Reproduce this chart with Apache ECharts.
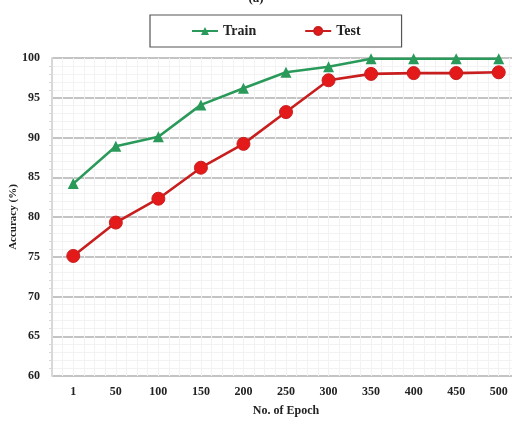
<!DOCTYPE html>
<html><head><meta charset="utf-8">
<script src="https://cdn.jsdelivr.net/npm/echarts@6/dist/echarts.min.js"></script>
<style>html,body{margin:0;padding:0;background:#fff}#c{width:512px;height:425px}</style>
</head><body><div id="c"></div>
<script>
var epochs = ['1','50','100','150','200','250','300','350','400','450','500'];
var trainAcc = [84.2, 88.9, 90.1, 94.1, 96.2, 98.2, 98.9, 99.9, 99.9, 99.9, 99.9];
var testAcc = [75.1, 79.3, 82.3, 86.2, 89.2, 93.2, 97.2, 98.0, 98.1, 98.1, 98.2];
var FONT = 'Liberation Serif';
var chart = echarts.init(document.getElementById('c'));
chart.setOption({
  animation: false,
  title: {text: '(a)', left: 'center', top: -13, textStyle: {fontFamily: FONT, fontWeight: 'bold', fontSize: 13, color: '#222'}},
  legend: {
    top: 15, left: 150,
    padding: [9, 41, 9, 41], itemGap: 48,
    borderColor: '#555', borderWidth: 1.2,
    itemWidth: 26, itemHeight: 10,
    textStyle: {fontFamily: FONT, fontWeight: 'bold', fontSize: 14, color: '#222'},
    data: ['Train', 'Test']
  },
  grid: [{left: 52, top: 58, width: 468, height: 318, outerBoundsMode: 'none', containLabel: false}],
  xAxis: [{
    type: 'category', data: epochs, boundaryGap: true,
    axisLine: {show: false}, axisTick: {show: false},
    axisLabel: {fontFamily: FONT, fontWeight: 'bold', fontSize: 12, color: '#222', margin: 10},
    splitLine: {show: false},
    name: 'No. of Epoch', nameLocation: 'middle', nameGap: 29, nameMoveOverlap: false,
    nameTextStyle: {fontFamily: FONT, fontWeight: 'bold', fontSize: 12, color: '#222'}
  }, {
    type: 'value', min: 0, max: 44, interval: 1, show: true, position: 'top',
    axisLine: {show: false}, axisTick: {show: false}, axisLabel: {show: false},
    splitLine: {show: true, lineStyle: {color: '#f2f2f2', width: 1}}
  }],
  yAxis: {
    type: 'value', min: 60, max: 100, interval: 5,
    axisLine: {show: true, lineStyle: {color: '#d8d8d8', width: 2}}, axisTick: {show: false},
    axisLabel: {fontFamily: FONT, fontWeight: 'bold', fontSize: 12, color: '#222', margin: 12},
    splitLine: {show: true, lineStyle: {color: '#c4c4c4', width: 2}},
    minorTick: {show: true, splitNumber: 5},
    minorSplitLine: {show: true, lineStyle: {color: '#f2f2f2', width: 1}},
    name: 'Accuracy (%)', nameLocation: 'middle', nameGap: 33, nameRotate: 90, nameMoveOverlap: false,
    nameTextStyle: {fontFamily: FONT, fontWeight: 'bold', fontSize: 11, color: '#222'}
  },
  series: [{
    name: 'Train', type: 'line', data: trainAcc, xAxisIndex: 0,
    symbol: 'triangle', symbolSize: 11,
    lineStyle: {color: '#2a9a5a', width: 2.6},
    itemStyle: {color: '#2a9a5a'}, z: 3
  }, {
    name: 'Test', type: 'line', data: testAcc, xAxisIndex: 0,
    symbol: 'circle', symbolSize: 13,
    lineStyle: {color: '#c81e1e', width: 2.6},
    itemStyle: {color: '#e41a1a', borderColor: '#c81e1e', borderWidth: 1}, z: 4
  }]
});
</script></body></html>
